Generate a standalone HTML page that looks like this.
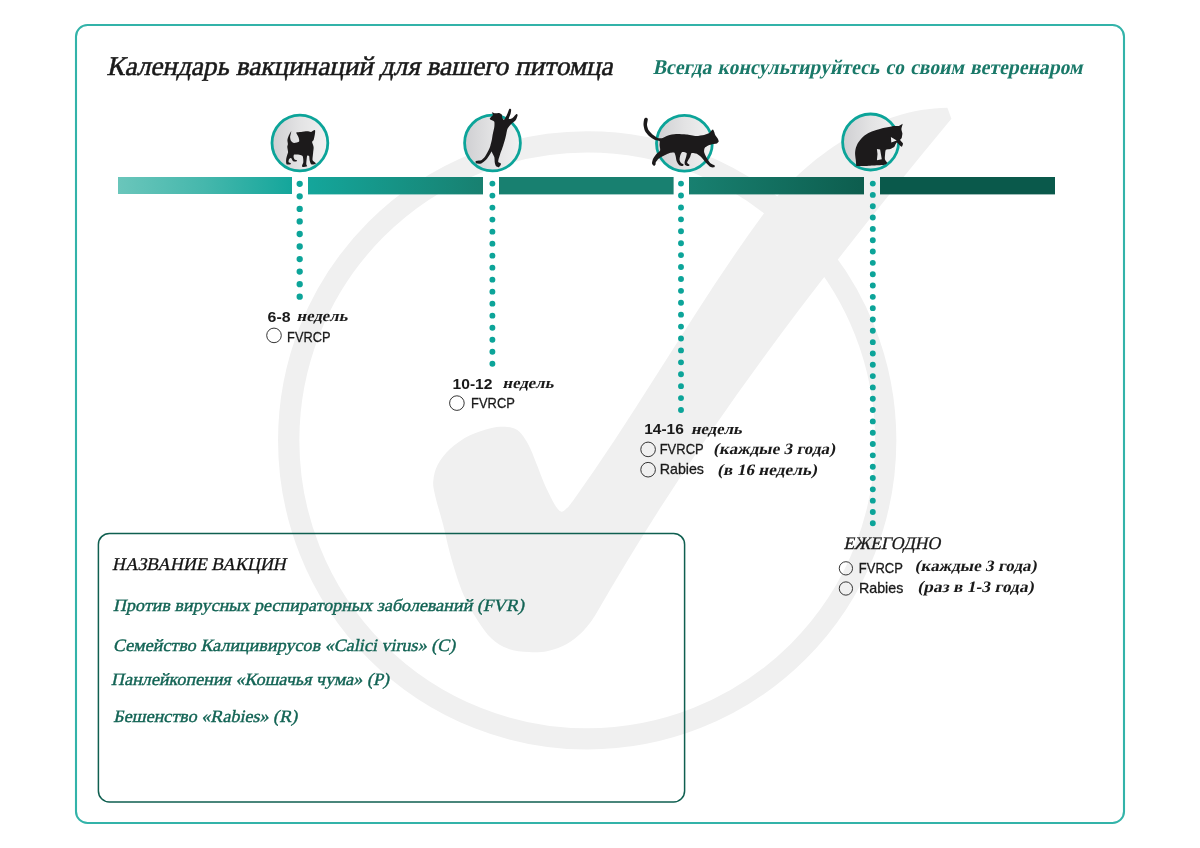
<!DOCTYPE html>
<html lang="ru">
<head>
<meta charset="utf-8">
<title>Календарь вакцинаций для вашего питомца</title>
<style>
html,body{margin:0;padding:0;background:#fff;}
body{width:1200px;height:848px;overflow:hidden;font-family:"Liberation Serif","DejaVu Serif",serif;}
svg{display:block;will-change:transform;}
text{white-space:pre;}
.se{font-family:"Liberation Serif","DejaVu Serif",serif;}
.sa{font-family:"Liberation Sans","DejaVu Sans",sans-serif;}
.b{font-weight:bold;}
.radio{fill:none;stroke:#2a2a2a;stroke-width:.95;}
.dots{fill:none;stroke:#0CA499;stroke-linecap:round;}
.ring{fill:url(#gc);stroke:#0CA499;stroke-width:2.8;}
</style>
</head>
<body>
<svg width="1200" height="848" viewBox="0 0 1200 848" role="img" aria-label="Календарь вакцинаций для вашего питомца">
<defs>
<linearGradient id="g1" x1="0" x2="1"><stop offset="0" stop-color="#6AC6BB"/><stop offset="0.5" stop-color="#45B7AC"/><stop offset="1" stop-color="#14A69B"/></linearGradient>
<linearGradient id="g2" x1="0" x2="1"><stop offset="0" stop-color="#14A69B"/><stop offset="1" stop-color="#188070"/></linearGradient>
<linearGradient id="g4" x1="0" x2="1"><stop offset="0" stop-color="#188070"/><stop offset="1" stop-color="#0D5D4E"/></linearGradient>
<linearGradient id="gc" x1="0" x2="1"><stop offset="0" stop-color="#cfcfd2"/><stop offset="0.5" stop-color="#e3e3e4"/><stop offset="1" stop-color="#f1f1f1"/></linearGradient>
</defs>
<rect width="1200" height="848" fill="#ffffff"/>
<!-- watermark: ring + check mark -->
<g id="watermark" fill="#f0f0f0"><circle cx="587.2" cy="440.4" r="298.5" fill="none" stroke="#f0f0f0" stroke-width="21.3"/>
<path d="M951.4 118.8C819.4 278.2 698.2 434.8 595.1 615.6C590.8 622.1 588.0 626.2 583.3 630.9C578.6 635.6 572.7 640.6 566.8 643.9C560.9 647.2 554.2 649.5 547.9 650.9C541.6 652.3 535.7 652.5 529.0 652.1C522.3 651.7 514.0 650.9 507.8 648.6C501.6 646.3 496.6 643.2 491.5 638.5C486.4 633.8 482.2 627.7 477.5 620.3C472.8 612.9 467.6 604.5 463.3 594.3C459.0 584.1 454.9 570.5 451.5 559.0C448.1 547.5 445.9 535.7 443.2 525.0C440.4 514.3 436.6 502.3 435.0 494.9C433.4 487.5 432.9 485.7 433.3 480.7C433.8 475.7 434.9 470.1 437.7 464.8C440.5 459.5 444.7 453.8 450.0 448.9C455.3 444.0 462.7 439.1 469.5 435.6C476.3 432.2 484.8 429.7 490.7 428.2C496.6 426.7 500.8 426.6 504.9 426.8C509.0 427.0 512.4 427.5 515.5 429.1C518.6 430.7 520.9 433.2 523.4 436.5C525.9 439.8 528.1 443.9 530.5 448.9C532.9 453.9 535.4 461.0 537.6 466.6C539.8 472.2 541.6 477.4 543.8 482.5C546.0 487.6 548.7 493.2 550.9 497.5C553.1 501.8 555.2 505.7 557.0 508.1C558.8 510.5 560.0 511.6 561.5 511.7C563.0 511.8 563.9 510.9 565.9 509.0C567.9 507.1 566.9 509.1 573.4 500.2C640.8 406.6 696.4 304.7 765 212C806.3 156.1 877.5 108.3 947.4 107.7Z"/></g>
<!-- outer frame -->
<rect id="frame" x="76" y="25" width="1048" height="798" rx="11.5" ry="11.5" fill="none" stroke="#33B3A9" stroke-width="2.1"/>
<!-- headings -->
<g id="headings">
<text class="se" transform="translate(106.6 75.4) skewX(-12)" font-size="27.0" fill="#1a1a1a" stroke="#1a1a1a" stroke-width="0.55" textLength="506" lengthAdjust="spacingAndGlyphs">Календарь вакцинаций для вашего питомца</text>
<text class="se b" transform="translate(652.7 74.2) skewX(-12)" font-size="20.84" fill="#1A7969" textLength="429.8" lengthAdjust="spacingAndGlyphs" word-spacing="1.3">Всегда консультируйтесь со своим ветеренаром</text>
</g>
<!-- age icons -->
<g id="icons">
<circle class="ring" cx="299.9" cy="143" r="27.9"/>
<circle class="ring" cx="492.5" cy="143" r="27.9"/>
<circle class="ring" cx="684.4" cy="143.3" r="27.9"/>
<circle class="ring" cx="870.6" cy="142" r="28.0"/>
<g fill="#1c1a1b">
<path d="M291.3 131.3C291.1 131.2 289.0 135.1 288.6 136.1C288.1 137.1 287.5 139.2 287.4 140.1C287.3 141.0 287.9 143.3 287.9 144.1C287.9 144.9 287.2 146.2 287.3 147.1C287.3 148.1 288.1 151.1 288.1 152.1C288.0 153.2 287.1 155.2 286.9 156.1C286.6 157.1 286.1 159.2 286.1 160.2C286.0 161.1 286.1 163.7 286.6 164.2C287.0 164.7 289.6 164.5 290.1 164.4C290.6 164.2 291.1 163.4 290.9 163.2C290.7 162.9 288.8 162.6 288.6 162.2C288.4 161.7 288.8 159.6 289.1 159.1C289.4 158.7 290.6 157.9 291.1 158.1C291.5 158.4 292.5 160.8 293.1 161.2C293.7 161.5 295.8 161.5 296.3 161.4C296.7 161.2 297.1 160.3 296.9 160.2C296.7 160.0 295.0 160.0 294.6 159.6C294.2 159.3 293.6 157.7 293.6 157.1C293.5 156.6 293.6 154.9 294.1 154.6C294.6 154.3 297.1 154.5 298.1 154.6C299.1 154.8 302.0 155.3 302.6 156.1C303.2 157.0 303.4 161.1 303.3 162.2C303.2 163.2 302.2 164.6 302.1 165.2C302.0 165.7 302.0 166.9 302.6 167.0C303.2 167.1 306.7 166.5 307.1 166.2C307.6 165.8 306.3 165.3 306.3 164.2C306.3 163.0 306.8 157.1 307.1 156.1C307.4 155.2 308.8 155.7 309.1 156.1C309.4 156.6 309.4 159.2 309.6 160.2C309.9 161.1 310.5 163.7 311.1 164.2C311.8 164.6 314.6 164.3 315.1 164.2C315.7 164.0 315.9 163.4 315.6 163.0C315.3 162.5 312.9 161.3 312.6 160.2C312.3 159.0 313.0 154.7 313.1 153.1C313.2 151.6 313.8 148.4 313.6 147.1C313.5 145.8 312.1 142.9 312.1 142.1C312.1 141.3 313.3 141.0 313.6 140.1C314.0 139.2 314.8 135.3 314.9 134.1C315.1 132.9 315.4 130.3 314.9 130.1C314.5 129.8 312.0 131.7 311.1 131.9C310.2 132.0 308.3 131.3 307.1 131.3C305.9 131.3 302.4 131.7 301.1 131.9C299.8 132.0 296.6 131.9 296.3 132.6C296.0 133.2 298.3 136.5 298.6 137.6C298.9 138.6 299.6 141.0 299.1 141.6C298.6 142.2 295.0 143.2 294.1 143.1C293.1 143.0 291.5 141.8 291.1 141.1C290.6 140.4 290.1 138.2 290.1 137.1C290.1 135.9 291.5 131.4 291.3 131.3Z"/>
<path d="M491.9 112.2C492.2 112.0 494.3 113.2 495.1 113.3C495.9 113.4 498.3 112.9 499.1 113.0C499.9 113.2 501.5 114.1 501.8 114.6C502.2 115.2 502.1 117.2 502.3 117.8C502.6 118.5 503.5 120.3 504.1 119.8C504.7 119.4 506.7 115.3 507.3 114.0C507.9 112.8 508.9 109.5 509.3 109.0C509.8 108.5 511.0 109.0 511.1 109.6C511.3 110.2 510.8 113.0 510.5 114.0C510.3 115.1 508.6 118.3 508.7 118.8C508.9 119.4 511.3 118.9 512.2 118.3C513.0 117.8 515.5 114.6 516.2 114.2C516.8 113.9 517.6 114.5 517.6 115.2C517.5 115.9 516.4 119.2 515.6 120.3C514.8 121.3 511.7 123.4 510.7 124.5C509.8 125.5 507.9 127.9 507.3 129.3C506.8 130.7 506.3 134.4 505.8 136.3C505.4 138.2 504.0 143.3 503.3 145.3C502.7 147.3 501.0 151.7 500.4 153.3C499.9 154.9 498.9 158.1 498.6 159.1C498.4 160.2 498.0 161.5 498.3 162.0C498.6 162.5 500.7 163.1 500.9 163.5C501.2 163.8 500.8 164.7 500.5 165.2C500.3 165.6 499.3 167.1 498.7 167.2C498.2 167.2 496.4 166.4 495.9 165.9C495.5 165.3 495.0 163.7 494.8 162.7C494.6 161.6 494.6 158.2 494.3 157.1C494.0 156.1 492.7 154.0 492.4 153.3C492.1 152.7 491.9 151.4 491.6 151.5C491.3 151.7 490.4 153.6 489.8 154.5C489.2 155.5 487.3 158.5 486.3 159.5C485.3 160.6 482.3 162.9 481.3 163.4C480.2 163.8 477.8 163.7 477.1 163.6C476.4 163.4 475.4 162.2 475.4 161.9C475.3 161.5 476.2 160.9 476.9 160.8C477.5 160.6 480.1 160.7 481.1 160.3C482.0 159.8 484.0 157.9 484.9 156.7C485.7 155.6 487.7 152.0 488.3 150.7C488.9 149.5 489.9 147.2 490.3 145.9C490.7 144.7 491.5 141.5 491.8 140.1C492.1 138.7 492.5 135.6 492.8 134.1C493.1 132.6 494.1 128.5 494.3 127.1C494.5 125.6 494.6 122.5 494.3 121.8C494.0 121.0 492.4 120.6 491.9 120.3C491.4 119.9 489.8 119.5 489.7 119.0C489.6 118.6 491.0 117.0 491.4 116.5C491.8 116.1 492.8 115.5 492.9 115.0C493.0 114.5 491.6 112.4 491.9 112.2Z"/>
<path d="M646.0 117.8C645.6 117.8 644.5 118.2 644.2 119.0C643.9 119.9 643.4 123.7 643.5 125.1C643.6 126.5 644.4 129.8 645.0 131.1C645.7 132.4 647.9 135.0 649.0 136.1C650.2 137.1 653.8 139.5 655.0 140.1C656.3 140.7 659.0 140.5 659.6 141.1C660.1 141.7 659.5 144.0 659.6 145.1C659.6 146.2 660.5 149.5 660.1 150.6C659.6 151.7 656.9 153.6 656.0 154.6C655.2 155.6 653.5 158.1 653.0 159.1C652.6 160.2 651.9 162.8 652.0 163.6C652.2 164.4 653.6 165.8 654.0 165.9C654.4 166.1 655.3 165.1 655.5 164.6C655.8 164.2 655.5 163.0 655.8 162.3C656.2 161.6 657.8 159.4 658.9 158.6C659.9 157.8 663.3 156.0 664.6 155.3C665.8 154.7 668.5 153.2 669.6 152.9C670.7 152.6 673.4 152.2 674.1 152.6C674.8 153.0 675.3 155.1 675.6 156.1C675.9 157.1 676.2 160.1 676.6 161.1C677.0 162.2 678.4 164.6 679.1 165.1C679.8 165.7 682.1 166.2 682.6 166.1C683.1 166.1 683.8 165.0 683.6 164.6C683.4 164.3 681.6 163.7 681.1 163.1C680.6 162.6 679.7 161.0 679.6 160.1C679.5 159.3 679.8 157.1 680.1 156.1C680.4 155.2 681.3 152.5 682.1 152.1C682.9 151.8 686.1 152.5 686.6 153.1C687.1 153.7 686.3 156.1 686.1 157.1C685.9 158.2 684.7 161.2 684.6 162.1C684.5 163.1 684.7 164.7 685.1 165.1C685.5 165.6 687.6 166.1 688.1 166.1C688.6 166.1 689.7 165.6 689.6 165.1C689.5 164.7 687.1 163.6 687.1 162.6C687.2 161.7 689.6 158.2 690.1 157.1C690.6 156.0 690.9 153.5 691.6 153.1C692.3 152.7 695.0 153.2 696.1 153.6C697.2 154.1 700.0 156.0 701.1 157.1C702.3 158.2 705.0 162.0 706.2 163.1C707.3 164.3 709.7 166.7 710.7 167.1C711.6 167.6 713.7 167.5 714.2 167.3C714.6 167.2 715.1 166.1 714.7 165.6C714.2 165.2 711.2 164.1 710.2 163.1C709.2 162.1 706.9 158.4 706.2 157.1C705.5 155.8 704.3 153.2 704.1 152.1C704.0 151.1 704.2 148.9 704.7 148.1C705.1 147.3 707.2 146.1 708.2 145.6C709.2 145.1 712.2 144.3 713.2 144.1C714.2 143.9 716.0 143.9 716.7 143.6C717.3 143.3 718.6 142.2 718.7 141.6C718.8 141.0 718.1 139.3 717.7 138.6C717.3 137.8 715.6 135.8 715.2 135.1C714.8 134.3 714.5 132.7 714.2 132.1C713.9 131.4 713.3 129.4 712.7 129.6C712.1 129.7 710.2 132.4 709.2 133.1C708.2 133.7 705.7 134.7 704.1 135.1C702.6 135.4 698.2 136.1 696.1 136.1C694.0 136.0 688.4 134.8 686.1 134.6C683.8 134.3 678.2 134.0 676.1 134.1C674.0 134.2 669.6 135.1 668.1 135.6C666.5 136.0 663.8 137.8 662.6 138.1C661.3 138.4 658.7 138.3 657.5 137.9C656.4 137.5 653.6 135.5 652.5 134.6C651.5 133.7 649.2 131.2 648.5 130.1C647.9 129.0 647.1 126.3 647.0 125.1C646.9 123.8 647.9 119.9 647.8 119.0C647.7 118.2 646.4 117.8 646.0 117.8Z"/>
<path fill-rule="evenodd" d="M902.7 123.9C903.1 123.6 902.8 123.2 902.7 123.9C902.5 124.5 901.4 127.9 901.4 129.1C901.3 130.2 902.3 132.5 902.4 133.6C902.4 134.6 901.9 137.3 901.7 138.1C901.4 138.8 900.0 139.4 900.2 140.1C900.3 140.7 902.8 142.8 903.0 143.6C903.1 144.4 902.2 146.6 901.8 146.7C901.3 146.8 899.7 145.3 899.2 144.8C898.6 144.3 897.4 142.7 896.9 142.6C896.5 142.5 896.0 143.8 895.6 144.3C895.3 144.8 894.8 146.5 894.1 147.1C893.5 147.7 891.1 148.8 890.1 149.1C889.2 149.4 886.5 149.2 885.9 149.8C885.3 150.4 885.2 153.0 885.1 154.1C885.0 155.2 884.7 158.3 884.9 159.3C885.2 160.3 887.0 162.4 887.3 162.8C887.6 163.2 887.5 162.7 887.3 162.8C887.2 163.0 886.5 164.1 885.9 164.3C885.3 164.6 884.0 165.0 882.1 165.1C880.3 165.3 873.1 165.6 870.1 165.7C867.1 165.9 857.9 166.1 856.3 166.1C854.6 166.2 856.3 166.8 856.3 166.1C856.2 165.4 855.9 161.5 855.8 160.1C855.6 158.7 855.1 155.5 855.1 154.1C855.0 152.8 855.3 149.8 855.7 148.5C856.0 147.2 857.2 144.1 858.1 142.7C858.9 141.3 861.7 137.9 863.1 136.7C864.5 135.5 868.3 133.1 870.1 132.3C871.8 131.4 876.2 130.0 878.1 129.5C880.0 128.9 884.6 127.9 886.1 127.6C887.7 127.2 890.3 126.5 891.3 126.4C892.4 126.2 894.3 126.0 895.1 126.0C896.0 125.9 898.2 126.0 898.6 126.0C898.9 126.0 898.1 126.2 898.6 126.0C899.0 125.7 902.2 124.1 902.7 123.9ZM890.9 136.9L896.7 140.6L891.3 142.5ZM876.9 149.1L880.1 149.6L881.8 159.3L876.9 160.3L877.5 154.1Z"/>
</g>
</g>
<!-- timeline bar -->
<g id="timeline">
<rect x="118" y="177" width="174" height="17" fill="url(#g1)"/>
<rect x="308" y="177" width="175" height="17.4" fill="url(#g2)"/>
<rect x="499" y="177" width="174.6" height="17.4" fill="#188070"/>
<rect x="689" y="177" width="175" height="17.4" fill="url(#g4)"/>
<rect x="880" y="177" width="175" height="17.4" fill="#0A594B"/>
<path class="dots" d="M299.7 183.8V296.71" stroke-width="6.3" stroke-dasharray="0 12.5444"/>
<path class="dots" d="M492.4 183.6V363.71" stroke-width="5.9" stroke-dasharray="0 12.0067"/>
<path class="dots" d="M681.0 183.6V410.01" stroke-width="5.9" stroke-dasharray="0 11.9158"/>
<path class="dots" d="M872.8 183.6V523.31" stroke-width="5.9" stroke-dasharray="0 11.3233"/>
</g>
<!-- vaccination steps -->
<g id="steps">
<text class="sa b" x="267.6" y="321.6" font-size="15.3" fill="#1a1a1a" textLength="23.0" lengthAdjust="spacingAndGlyphs">6-8</text><text class="se b" transform="translate(296.6 321.4) skewX(-12)" font-size="15.36" fill="#1a1a1a" textLength="50.87" lengthAdjust="spacingAndGlyphs">недель</text><circle class="radio" cx="274" cy="335.4" r="7.3"/><text class="sa" x="287.1" y="341.8" font-size="14.8" fill="#1a1a1a" stroke="#1a1a1a" stroke-width="0.3" textLength="43.4" lengthAdjust="spacingAndGlyphs">FVRCP</text>
<text class="sa b" x="452.5" y="388.6" font-size="15.3" fill="#1a1a1a" textLength="40.0" lengthAdjust="spacingAndGlyphs">10-12</text><text class="se b" transform="translate(502.6 387.9) skewX(-12)" font-size="15.36" fill="#1a1a1a" textLength="50.87" lengthAdjust="spacingAndGlyphs">недель</text><circle class="radio" cx="456.9" cy="403.1" r="7.3"/><text class="sa" x="471.1" y="408.3" font-size="14.8" fill="#1a1a1a" stroke="#1a1a1a" stroke-width="0.3" textLength="43.8" lengthAdjust="spacingAndGlyphs">FVRCP</text>
<text class="sa b" x="644.2" y="434.2" font-size="15.3" fill="#1a1a1a" textLength="39.6" lengthAdjust="spacingAndGlyphs">14-16</text><text class="se b" transform="translate(691 433.9) skewX(-12)" font-size="15.36" fill="#1a1a1a" textLength="50.87" lengthAdjust="spacingAndGlyphs">недель</text><circle class="radio" cx="648.1" cy="449.4" r="7.3"/><text class="sa" x="659.7" y="453.9" font-size="14.8" fill="#1a1a1a" stroke="#1a1a1a" stroke-width="0.3" textLength="44.0" lengthAdjust="spacingAndGlyphs">FVRCP</text><text class="se b" transform="translate(713.3 454) skewX(-12)" font-size="15.78" fill="#1a1a1a" textLength="121.57" lengthAdjust="spacingAndGlyphs">(каждые 3 года)</text><circle class="radio" cx="648.1" cy="469.7" r="7.3"/><text class="sa" x="659.7" y="474.2" font-size="14.8" fill="#1a1a1a" stroke="#1a1a1a" stroke-width="0.3" textLength="44.3" lengthAdjust="spacingAndGlyphs">Rabies</text><text class="se b" transform="translate(717.3 474.5) skewX(-12)" font-size="15.92" fill="#1a1a1a" textLength="99.52" lengthAdjust="spacingAndGlyphs">(в 16 недель)</text>
<text class="se" transform="translate(843.4 548.6) skewX(-12)" font-size="17.75" fill="#1a1a1a" stroke="#1a1a1a" stroke-width="0.3">ЕЖЕГОДНО</text><circle class="radio" cx="845.9" cy="568.35" r="6.65"/><text class="sa" x="858.8" y="573" font-size="14.5" fill="#1a1a1a" stroke="#1a1a1a" stroke-width="0.3" textLength="44.0" lengthAdjust="spacingAndGlyphs">FVRCP</text><text class="se b" transform="translate(914.8 571) skewX(-12)" font-size="15.78" fill="#1a1a1a" textLength="121.57" lengthAdjust="spacingAndGlyphs">(каждые 3 года)</text><circle class="radio" cx="845.9" cy="588.5" r="6.65"/><text class="sa" x="859.0" y="592.5" font-size="14.5" fill="#1a1a1a" stroke="#1a1a1a" stroke-width="0.3" textLength="44.3" lengthAdjust="spacingAndGlyphs">Rabies</text><text class="se b" transform="translate(917.4 592) skewX(-12)" font-size="16.05" fill="#1a1a1a" textLength="116.1" lengthAdjust="spacingAndGlyphs">(раз в 1-3 года)</text>
</g>
<!-- vaccine names legend -->
<g id="legend">
<rect x="98.4" y="533.4" width="586.2" height="268.6" rx="11" ry="11" fill="none" stroke="#0F5F50" stroke-width="1.5"/>
<text class="se" transform="translate(112.0 570) skewX(-12)" font-size="17.9" fill="#111111" stroke="#111111" stroke-width="0.3">НАЗВАНИЕ ВАКЦИН</text>
<text class="se" transform="translate(113.0 611.3) skewX(-12)" font-size="17.37" fill="#136455" stroke="#136455" stroke-width="0.4" textLength="411.13" lengthAdjust="spacingAndGlyphs">Против вирусных респираторных заболеваний (FVR)</text>
<text class="se" transform="translate(113.0 650.5) skewX(-12)" font-size="17.37" fill="#136455" stroke="#136455" stroke-width="0.4" textLength="342.32" lengthAdjust="spacingAndGlyphs">Семейство Калицивирусов «Calici virus» (C)</text>
<text class="se" transform="translate(111.1 684.6) skewX(-12)" font-size="17.37" fill="#136455" stroke="#136455" stroke-width="0.4" textLength="277.96" lengthAdjust="spacingAndGlyphs">Панлейкопения «Кошачья чума» (P)</text>
<text class="se" transform="translate(113.3 722) skewX(-12)" font-size="17.37" fill="#136455" stroke="#136455" stroke-width="0.4" textLength="183.94" lengthAdjust="spacingAndGlyphs">Бешенство «Rabies» (R)</text>
</g>
</svg>
</body>
</html>
